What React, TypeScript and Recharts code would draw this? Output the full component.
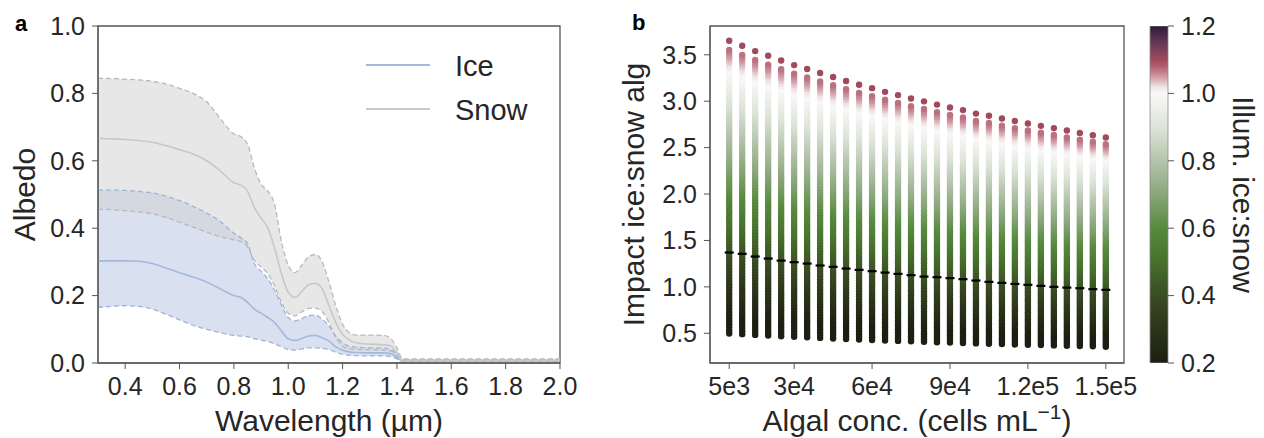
import React from "react";
import {
  ComposedChart,
  ScatterChart,
  BarChart,
  Bar,
  Scatter,
  Area,
  Line,
  XAxis,
  YAxis,
  ReferenceArea,
} from "recharts";

const FONT = '"Liberation Sans", Arial, Helvetica, sans-serif';
const INK = "#262626";
const SPINE = "#555555";

// ---- panel a : albedo spectra ----
const wavelengths = [
  0.3, 0.35, 0.4, 0.45, 0.5, 0.55, 0.6, 0.65, 0.7, 0.75, 0.8, 0.825, 0.85, 0.875,
  0.9, 0.925, 0.95, 0.975, 1.0, 1.025, 1.05, 1.075, 1.1, 1.125, 1.15, 1.175, 1.2,
  1.225, 1.25, 1.3, 1.35, 1.38, 1.4, 1.42, 1.45, 1.5, 1.6, 1.7, 1.8, 1.9, 2.0,
];
const iceMean = [
  0.303, 0.303, 0.303, 0.302, 0.295, 0.282, 0.268, 0.255, 0.24, 0.22, 0.2, 0.195, 0.18, 0.16,
  0.148, 0.135, 0.12, 0.095, 0.072, 0.067, 0.073, 0.08, 0.082, 0.075, 0.065, 0.048, 0.038,
  0.033, 0.031, 0.03, 0.03, 0.027, 0.017, 0.007, 0.007, 0.007, 0.007, 0.007, 0.007, 0.007, 0.007,
];
const iceMin = [
  0.165, 0.168, 0.17, 0.168, 0.16, 0.145, 0.128, 0.112, 0.1, 0.09, 0.082, 0.08, 0.078, 0.072,
  0.068, 0.064, 0.057, 0.048, 0.04, 0.038, 0.042, 0.045, 0.045, 0.043, 0.04, 0.032, 0.026,
  0.023, 0.022, 0.021, 0.021, 0.019, 0.012, 0.004, 0.004, 0.004, 0.004, 0.004, 0.004, 0.004, 0.004,
];
const iceMax = [
  0.513, 0.513, 0.512, 0.509, 0.505, 0.495, 0.482, 0.465, 0.445, 0.42, 0.385, 0.372, 0.355, 0.295,
  0.272, 0.25, 0.215, 0.172, 0.135, 0.125, 0.132, 0.14, 0.142, 0.13, 0.11, 0.08, 0.06,
  0.05, 0.047, 0.045, 0.044, 0.04, 0.025, 0.01, 0.01, 0.01, 0.01, 0.01, 0.01, 0.01, 0.01,
];
const snowMean = [
  0.666, 0.665, 0.663, 0.66, 0.655, 0.645, 0.633, 0.62, 0.6, 0.57, 0.535, 0.528, 0.51, 0.462,
  0.43, 0.4, 0.34, 0.265, 0.21, 0.195, 0.212, 0.232, 0.236, 0.22, 0.17, 0.12, 0.085,
  0.068, 0.06, 0.056, 0.054, 0.05, 0.03, 0.008, 0.008, 0.008, 0.008, 0.008, 0.008, 0.008, 0.008,
];
const snowMin = [
  0.456, 0.455, 0.452, 0.448, 0.443, 0.432, 0.418, 0.403, 0.388, 0.375, 0.365, 0.36, 0.345, 0.305,
  0.285, 0.265, 0.228, 0.18, 0.148, 0.14, 0.152, 0.162, 0.163, 0.152, 0.12, 0.075, 0.05,
  0.042, 0.04, 0.039, 0.038, 0.035, 0.02, 0.005, 0.005, 0.005, 0.005, 0.005, 0.005, 0.005, 0.005,
];
const snowMax = [
  0.845, 0.844, 0.842, 0.84, 0.836, 0.828, 0.815, 0.8, 0.775, 0.725, 0.68, 0.672, 0.65, 0.58,
  0.53, 0.51, 0.47, 0.36, 0.29, 0.268, 0.29, 0.315, 0.322, 0.3, 0.24, 0.17, 0.115,
  0.09, 0.083, 0.083, 0.082, 0.07, 0.045, 0.013, 0.012, 0.012, 0.012, 0.012, 0.012, 0.012, 0.012,
];
const wlTicks = [0.4, 0.6, 0.8, 1.0, 1.2, 1.4, 1.6, 1.8, 2.0];
const albedoTicks = [0, 0.2, 0.4, 0.6, 0.8, 1.0];

// ---- panel b : impact ratio vs algal concentration ----
const algalConc = [
  5000, 10000, 15000, 20000, 25000, 30000, 35000, 40000, 45000, 50000, 55000, 60000, 65000,
  70000, 75000, 80000, 85000, 90000, 95000, 100000, 105000, 110000, 115000, 120000, 125000,
  130000, 135000, 140000, 145000, 150000,
];
// impact ratio per unit of illumination ratio, one per column
const impactPerIllum = [
  3.319, 3.27, 3.218, 3.172, 3.126, 3.081, 3.042, 3.003, 2.964, 2.925, 2.888, 2.855, 2.819,
  2.787, 2.754, 2.726, 2.694, 2.665, 2.64, 2.606, 2.585, 2.558, 2.533, 2.509, 2.486, 2.464,
  2.44, 2.417, 2.395, 2.372,
];
const illumLevels = [
  0.15, 0.16, 0.17, 0.18, 0.19, 0.2, 0.21, 0.22, 0.23, 0.24, 0.25, 0.26, 0.27, 0.28, 0.29,
  0.3, 0.31, 0.32, 0.33, 0.34, 0.35, 0.36, 0.37, 0.38, 0.39, 0.4, 0.41, 0.42, 0.43, 0.44,
  0.45, 0.46, 0.47, 0.48, 0.49, 0.5, 0.51, 0.52, 0.53, 0.54, 0.55, 0.56, 0.57, 0.58, 0.59,
  0.6, 0.61, 0.62, 0.63, 0.64, 0.65, 0.66, 0.67, 0.68, 0.69, 0.7, 0.71, 0.72, 0.73, 0.74,
  0.75, 0.76, 0.77, 0.78, 0.79, 0.8, 0.81, 0.82, 0.83, 0.84, 0.85, 0.86, 0.87, 0.88, 0.89,
  0.9, 0.91, 0.92, 0.93, 0.94, 0.95, 0.96, 0.97, 0.98, 0.99, 1.0, 1.01, 1.02, 1.03, 1.04,
  1.05, 1.06, 1.07, 1.1,
];
const markImpact = [
  1.37, 1.356, 1.327, 1.305, 1.283, 1.266, 1.251, 1.23, 1.216, 1.197, 1.183, 1.169, 1.154,
  1.14, 1.126, 1.111, 1.104, 1.094, 1.083, 1.068, 1.054, 1.043, 1.032, 1.022, 1.011, 1.0,
  0.992, 0.986, 0.975, 0.968,
];
const concTicks = [5000, 30000, 60000, 90000, 120000, 150000];
const concTickLabels = ["5e3", "3e4", "6e4", "9e4", "1.2e5", "1.5e5"];
const impactTicks = [0.5, 1.0, 1.5, 2.0, 2.5, 3.0, 3.5];
const illumTicks = [0.2, 0.4, 0.6, 0.8, 1.0, 1.2];
const illumRange = [{ name: "illum", range: [0.2, 1.2] }];

// green - white - maroon colormap used for the illumination ratio
const cmapStops: [number, string][] = [
  [0.2, "#1c1f12"],
  [0.3, "#2b3419"],
  [0.4, "#3a4c24"],
  [0.5, "#47702c"],
  [0.6, "#568a3d"],
  [0.7, "#8aa67a"],
  [0.8, "#b4c4ac"],
  [0.9, "#dde4d8"],
  [1.0, "#f8f8f8"],
  [1.02, "#efe2e4"],
  [1.05, "#cf98a2"],
  [1.08, "#b05f70"],
  [1.1, "#a04a5c"],
  [1.15, "#663858"],
  [1.2, "#2a1b38"],
];

const hexRgb = (h: string) => [1, 3, 5].map((i) => parseInt(h.slice(i, i + 2), 16));

function illumColor(v: number) {
  const x = Math.min(Math.max(v, 0.2), 1.2);
  for (let i = 0; i < cmapStops.length - 1; i++) {
    const [a, ca] = cmapStops[i];
    const [b, cb] = cmapStops[i + 1];
    if (x <= b) {
      const t = (x - a) / (b - a);
      const A = hexRgb(ca);
      const B = hexRgb(cb);
      return `rgb(${A.map((c, k) => Math.round(c + (B[k] - c) * t)).join(",")})`;
    }
  }
  return cmapStops[cmapStops.length - 1][1];
}

const albedoRows = wavelengths.map((wl, i) => ({
  wl,
  iceMean: iceMean[i],
  iceMin: iceMin[i],
  iceMax: iceMax[i],
  snowMean: snowMean[i],
  snowMin: snowMin[i],
  snowMax: snowMax[i],
  iceBand: [iceMin[i], iceMax[i]],
  snowBand: [snowMin[i], snowMax[i]],
}));

const impactPoints = algalConc.flatMap((conc, c) =>
  illumLevels.map((illum) => ({ conc, illum, impact: impactPerIllum[c] * illum }))
);
const markPoints = algalConc.map((conc, c) => ({ conc, impact: markImpact[c] }));

const tickStyle = { fontSize: 25, fill: INK, fontFamily: FONT };
const titleStyle = { fontSize: 30, fill: INK, fontFamily: FONT };

const ImpactDot = (p: any) => (
  <circle cx={p.cx} cy={p.cy} r={3.2} fill={illumColor(p.payload.illum)} />
);
const MarkDash = (p: any) => (
  <rect x={p.cx - 4.5} y={p.cy - 1.1} width={9} height={2.2} fill="#000" />
);

export default function App() {
  return (
    <div style={{ position: "absolute", left: 0, top: 0, width: 1264, height: 438, background: "#fff", fontFamily: FONT }}>
      {/* panel a */}
      <div style={{ position: "absolute", left: 0, top: 0 }}>
        <ComposedChart
          width={580}
          height={438}
          data={albedoRows}
          margin={{ top: 26, right: 20, bottom: 15, left: 38 }}
        >
          <XAxis
            dataKey="wl"
            type="number"
            domain={[0.3, 2.0]}
            ticks={wlTicks}
            allowDataOverflow
            tickFormatter={(v: number) => v.toFixed(1)}
            tick={tickStyle}
            tickSize={6}
            tickMargin={8}
            stroke={SPINE}
            height={60}
            label={{
              content: (p: any) => (
                <text x={p.viewBox.x + p.viewBox.width / 2} y={p.viewBox.y + 68} textAnchor="middle" style={titleStyle}>
                  Wavelength (µm)
                </text>
              ),
            }}
          />
          <YAxis
            type="number"
            domain={[0, 1]}
            ticks={albedoTicks}
            allowDataOverflow
            tickFormatter={(v: number) => v.toFixed(1)}
            tick={tickStyle}
            tickSize={6}
            tickMargin={7}
            stroke={SPINE}
            width={60}
            label={{
              content: (p: any) => {
                const x = p.viewBox.x + p.viewBox.width - 63;
                const y = p.viewBox.y + p.viewBox.height / 2;
                return (
                  <text x={x} y={y} transform={`rotate(-90, ${x}, ${y})`} textAnchor="middle" style={titleStyle}>
                    Albedo
                  </text>
                );
              },
            }}
          />
          <Area dataKey="iceBand" type="monotone" fill="#bfcde6" fillOpacity={0.6} stroke="none" isAnimationActive={false} />
          <Area dataKey="snowBand" type="monotone" fill="#cfcfcf" fillOpacity={0.5} stroke="none" isAnimationActive={false} />
          <Line dataKey="iceMin" type="monotone" stroke="#9fb3d9" strokeWidth={1.3} strokeDasharray="5 3" dot={false} isAnimationActive={false} />
          <Line dataKey="iceMax" type="monotone" stroke="#9fb3d9" strokeWidth={1.3} strokeDasharray="5 3" dot={false} isAnimationActive={false} />
          <Line dataKey="snowMin" type="monotone" stroke="#b9b9b9" strokeWidth={1.3} strokeDasharray="5 3" dot={false} isAnimationActive={false} />
          <Line dataKey="snowMax" type="monotone" stroke="#b9b9b9" strokeWidth={1.3} strokeDasharray="5 3" dot={false} isAnimationActive={false} />
          <Line dataKey="iceMean" type="monotone" stroke="#a6b8d9" strokeWidth={1.6} dot={false} isAnimationActive={false} />
          <Line dataKey="snowMean" type="monotone" stroke="#c8c8c8" strokeWidth={1.6} dot={false} isAnimationActive={false} />
          <ReferenceArea x1={0.3} x2={2.0} y1={0} y2={1} fill="none" stroke={SPINE} strokeWidth={1.3} />
        </ComposedChart>
      </div>

      {/* legend of panel a */}
      {[
        { l: "Ice", c: "#a6b8d9", y: 65 },
        { l: "Snow", c: "#c8c8c8", y: 109 },
      ].map((e) => (
        <div key={e.l}>
          <div style={{ position: "absolute", left: 366, top: e.y - 1, width: 64, height: 2, background: e.c }} />
          <div style={{ position: "absolute", left: 455, top: e.y - 13, fontSize: 29, lineHeight: 1, color: INK }}>{e.l}</div>
        </div>
      ))}

      {/* panel b */}
      <div style={{ position: "absolute", left: 560, top: 0 }}>
        <ScatterChart width={600} height={438} margin={{ top: 26, right: 36, bottom: 15, left: 70 }}>
          <XAxis
            dataKey="conc"
            type="number"
            domain={[-2400, 157000]}
            ticks={concTicks}
            allowDataOverflow
            tickFormatter={(v: number) => concTickLabels[concTicks.indexOf(v)]}
            tick={tickStyle}
            tickSize={6}
            tickMargin={8}
            stroke={SPINE}
            height={60}
            label={{
              content: (p: any) => (
                <text x={p.viewBox.x + p.viewBox.width / 2} y={p.viewBox.y + 68} textAnchor="middle" style={titleStyle}>
                  Algal conc. (cells mL
                  <tspan dy={-12} fontSize={21}>−1</tspan>
                  <tspan dy={12}>)</tspan>
                </text>
              ),
            }}
          />
          <YAxis
            dataKey="impact"
            type="number"
            domain={[0.18, 3.81]}
            ticks={impactTicks}
            allowDataOverflow
            tickFormatter={(v: number) => v.toFixed(1)}
            tick={tickStyle}
            tickSize={6}
            tickMargin={7}
            stroke={SPINE}
            width={80}
            label={{
              content: (p: any) => {
                const x = p.viewBox.x + p.viewBox.width - 66;
                const y = p.viewBox.y + p.viewBox.height / 2;
                return (
                  <text x={x} y={y} transform={`rotate(-90, ${x}, ${y})`} textAnchor="middle" style={titleStyle}>
                    Impact ice:snow alg
                  </text>
                );
              },
            }}
          />
          <Scatter data={impactPoints} shape={ImpactDot} isAnimationActive={false} />
          <Scatter data={markPoints} shape={MarkDash} isAnimationActive={false} />
          <ReferenceArea x1={-2400} x2={157000} y1={0.18} y2={3.81} fill="none" stroke={SPINE} strokeWidth={1.3} />
        </ScatterChart>
      </div>

      {/* colorbar */}
      <div style={{ position: "absolute", left: 1100, top: 0 }}>
        <BarChart
          width={164}
          height={438}
          data={illumRange}
          barCategoryGap={0}
          margin={{ top: 26, right: 0, bottom: 75, left: 50 }}
        >
          <defs>
            <linearGradient id="illumBar" x1="0" y1="1" x2="0" y2="0">
              {cmapStops.map(([v, c]) => (
                <stop key={v} offset={v - 0.2} stopColor={c} />
              ))}
            </linearGradient>
          </defs>
          <XAxis dataKey="name" hide />
          <YAxis
            orientation="right"
            type="number"
            domain={[0.2, 1.2]}
            ticks={illumTicks}
            allowDataOverflow
            tickFormatter={(v: number) => v.toFixed(1)}
            tick={tickStyle}
            tickSize={6}
            tickMargin={7}
            stroke={SPINE}
            axisLine={false}
            width={96}
            label={{
              content: (p: any) => {
                const x = p.viewBox.x + 65;
                const y = p.viewBox.y + p.viewBox.height / 2;
                return (
                  <text x={x} y={y} transform={`rotate(90, ${x}, ${y})`} textAnchor="middle" style={titleStyle}>
                    Illum. ice:snow
                  </text>
                );
              },
            }}
          />
          <Bar dataKey="range" fill="url(#illumBar)" stroke="#8a8a8a" strokeWidth={0.8} isAnimationActive={false} />
        </BarChart>
      </div>

      {/* panel letters */}
      <div style={{ position: "absolute", left: 15, top: 13, fontSize: 22, fontWeight: "bold", lineHeight: 1, color: "#000" }}>a</div>
      <div style={{ position: "absolute", left: 632, top: 12, fontSize: 22, fontWeight: "bold", lineHeight: 1, color: "#000" }}>b</div>
    </div>
  );
}
